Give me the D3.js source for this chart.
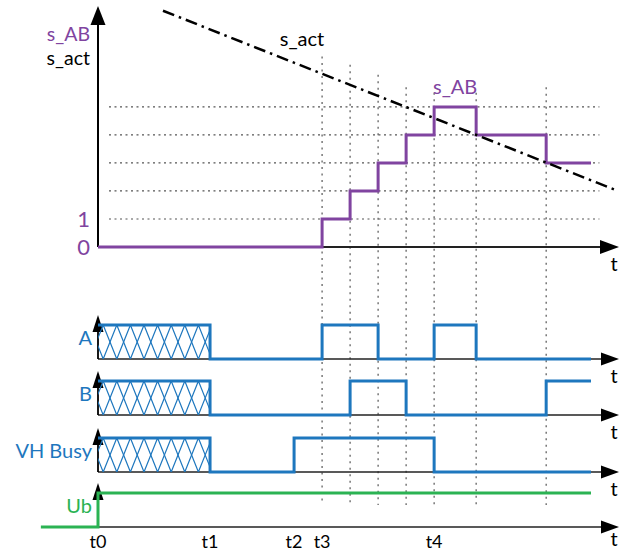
<!DOCTYPE html>
<html><head><meta charset="utf-8">
<script src="https://cdn.jsdelivr.net/npm/d3@7"></script>
<style>body{margin:0;background:#fff} svg{display:block} text{font-family:Lato,"Noto Sans",sans-serif}</style>
</head><body><svg id="c" width="627" height="553"></svg>
<script>
// ---------- data ----------
const timeLabels = ["t0", "t1", "t2", "t3", "t4"];
const timeValues = [0, 4, 7, 8, 12];
const markerTimes = [8, 9, 10, 11, 12, 13.5, 16];
const markerTopLevels = [6.8, 6.5, 6.15, 5.7, 5.5, 5.5, 5.7];
const gridLevels = [1, 2, 3, 4, 5];
const levelTickLabels = ["0", "1"];
const levelTickValues = [0, 1];
const sabTimes = [0, 8, 9, 10, 11, 12, 13.5, 16, 17.6];
const sabLevels = [0, 1, 2, 3, 4, 5, 4, 3, 3];
const sactTimes = [2.32, 18.46];
const sactLevels = [8.43, 2.04];
const signalNames = ["A", "B", "VH Busy", "Ub"];
const aTimes = [0, 4, 8, 10, 12, 13.5, 17.6];
const aValues = [1, 0, 1, 0, 1, 0, 0];
const bTimes = [0, 4, 9, 11, 16, 17.6];
const bValues = [1, 0, 1, 0, 1, 1];
const vhTimes = [0, 4, 7, 12, 17.6];
const vhValues = [1, 0, 1, 0, 0];
const ubTimes = [-2.04, 0, 17.6];
const ubValues = [0, 1, 1];
const hatchEnd = 4;

// ---------- layout ----------
const svg = d3.select("#c");
const PURPLE = "#8044a0", BLUE = "#1e77be", GREEN = "#2bb353", GRID = "#555";
const x = d3.scaleLinear().domain([0, 18.6]).range([98, 619]);
const yTop = d3.scaleLinear().domain([0, 8.6]).range([247, 6]);
const markerBottom = 505;
const panels = [
  {name: signalNames[0], times: aTimes, values: aValues, base: 359, color: BLUE, hatch: true},
  {name: signalNames[1], times: bTimes, values: bValues, base: 415, color: BLUE, hatch: true},
  {name: signalNames[2], times: vhTimes, values: vhValues, base: 472, color: BLUE, hatch: true},
  {name: signalNames[3], times: ubTimes, values: ubValues, base: 527, color: GREEN, hatch: false}
];
panels.forEach(p => p.y = d3.scaleLinear().domain([0, 1]).range([p.base, p.base - 34]));

const arrowX = (g, tipX, y, len, half) => g.append("path")
  .attr("d", `M${tipX},${y} L${tipX - len},${y - half} L${tipX - len},${y + half} Z`).attr("fill", "#000");
const arrowY = (g, xx, tipY, len, half) => g.append("path")
  .attr("d", `M${xx},${tipY} L${xx - half},${tipY + len} L${xx + half},${tipY + len} Z`).attr("fill", "#000");

// grid lines (top)
svg.append("g").selectAll("line").data(gridLevels).join("line")
  .attr("x1", 109).attr("x2", x(17.9))
  .attr("y1", d => yTop(d)).attr("y2", d => yTop(d))
  .attr("stroke", GRID).attr("stroke-width", 1.2).attr("stroke-dasharray", "2,3.5");

// vertical marker lines
svg.append("g").selectAll("line").data(markerTimes).join("line")
  .attr("x1", d => x(d)).attr("x2", d => x(d))
  .attr("y1", (d, i) => yTop(markerTopLevels[i])).attr("y2", markerBottom)
  .attr("stroke", GRID).attr("stroke-width", 1.2).attr("stroke-dasharray", "2,4.5");

// top axes
const gTop = svg.append("g");
gTop.append("line").attr("x1", x(0)).attr("x2", 605).attr("y1", yTop(0)).attr("y2", yTop(0))
  .attr("stroke", "#222").attr("stroke-width", 2);
arrowX(gTop, 619, yTop(0), 19, 7);
gTop.append("line").attr("x1", x(0)).attr("x2", x(0)).attr("y1", yTop(0)).attr("y2", 20)
  .attr("stroke", "#000").attr("stroke-width", 2);
arrowY(gTop, x(0), 6, 19, 7.5);
gTop.append("text").attr("x", 614).attr("y", yTop(0) + 24).attr("text-anchor", "middle")
  .attr("font-size", 20).text("t");
gTop.append("text").attr("x", 90).attr("y", 41).attr("text-anchor", "end")
  .attr("font-size", 19.5).attr("fill", PURPLE).text("s_AB");
gTop.append("text").attr("x", 90).attr("y", 65).attr("text-anchor", "end")
  .attr("font-size", 19.5).attr("fill", "#000").text("s_act");
gTop.selectAll(".lvl").data(levelTickValues).join("text")
  .attr("x", 90).attr("y", d => yTop(d) + 8).attr("text-anchor", "end")
  .attr("font-size", 22).attr("fill", PURPLE).text((d, i) => levelTickLabels[i]);

// s_AB step line
gTop.append("path").datum(sabTimes.map((t, i) => [t, sabLevels[i]]))
  .attr("d", d3.line().x(d => x(d[0])).y(d => yTop(d[1])).curve(d3.curveStepAfter))
  .attr("fill", "none").attr("stroke", PURPLE).attr("stroke-width", 3);
gTop.append("text").attr("x", x(12.75)).attr("y", 94).attr("text-anchor", "middle")
  .attr("font-size", 20).attr("fill", PURPLE).text("s_AB");

// s_act line
gTop.append("path").datum(sactTimes.map((t, i) => [t, sactLevels[i]]))
  .attr("d", d3.line().x(d => x(d[0])).y(d => yTop(d[1])))
  .attr("fill", "none").attr("stroke", "#000").attr("stroke-width", 2.5)
  .attr("stroke-dasharray", "12,5,2.5,5");
gTop.append("text").attr("x", 302).attr("y", 46).attr("text-anchor", "middle")
  .attr("font-size", 20).attr("fill", "#000").text("s_act");

// lower panels
const defs = svg.append("defs");
panels.forEach((p, pi) => {
  const g = svg.append("g");
  g.append("line").attr("x1", x(0)).attr("x2", 605).attr("y1", p.base).attr("y2", p.base)
    .attr("stroke", "#222").attr("stroke-width", 1.6);
  arrowX(g, 619, p.base, 18, 6.5);
  g.append("text").attr("x", 614).attr("y", Math.min(p.base + 24, 546)).attr("text-anchor", "middle")
    .attr("font-size", 20).text("t");
  g.append("line").attr("x1", x(0)).attr("x2", x(0)).attr("y1", p.base).attr("y2", p.y(1) - 4)
    .attr("stroke", "#000").attr("stroke-width", 1.8);
  arrowY(g, x(0), p.y(1) - 10, 17, 5.5);
  g.append("text").attr("x", 92).attr("y", p.base - 14).attr("text-anchor", "end")
    .attr("font-size", 20).attr("fill", p.color).text(p.name);
  if (p.hatch) {
    const id = "clip" + pi;
    const x0 = x(0), x1 = x(hatchEnd), yT = p.y(1), yB = p.y(0);
    defs.append("clipPath").attr("id", id).append("rect")
      .attr("x", x0).attr("y", yT).attr("width", x1 - x0).attr("height", yB - yT);
    const step = 13.6;
    const pts1 = [], pts2 = [];
    for (let k = -1, xx = 103.2 - step; xx < x1 + step; k++, xx += step) {
      const even = (Math.abs(k) % 2 === 0);
      pts1.push([xx, even ? yT : yB]);
      pts2.push([xx, even ? yB : yT]);
    }
    [pts1, pts2].forEach(pts => g.append("path").attr("clip-path", `url(#${id})`)
      .attr("d", d3.line()(pts)).attr("fill", "none").attr("stroke", BLUE).attr("stroke-width", 1.2));
  }
  g.append("path").datum(p.times.map((t, i) => [t, p.values[i]]))
    .attr("d", d3.line().x(d => x(d[0])).y(d => p.y(d[1])).curve(d3.curveStepAfter))
    .attr("fill", "none").attr("stroke", p.color).attr("stroke-width", 3);
});

// time labels
svg.append("g").selectAll("text").data(timeValues).join("text")
  .attr("x", d => x(d)).attr("y", 548).attr("text-anchor", "middle")
  .attr("font-size", 18).attr("fill", "#000").text((d, i) => timeLabels[i]);
</script></body></html>
